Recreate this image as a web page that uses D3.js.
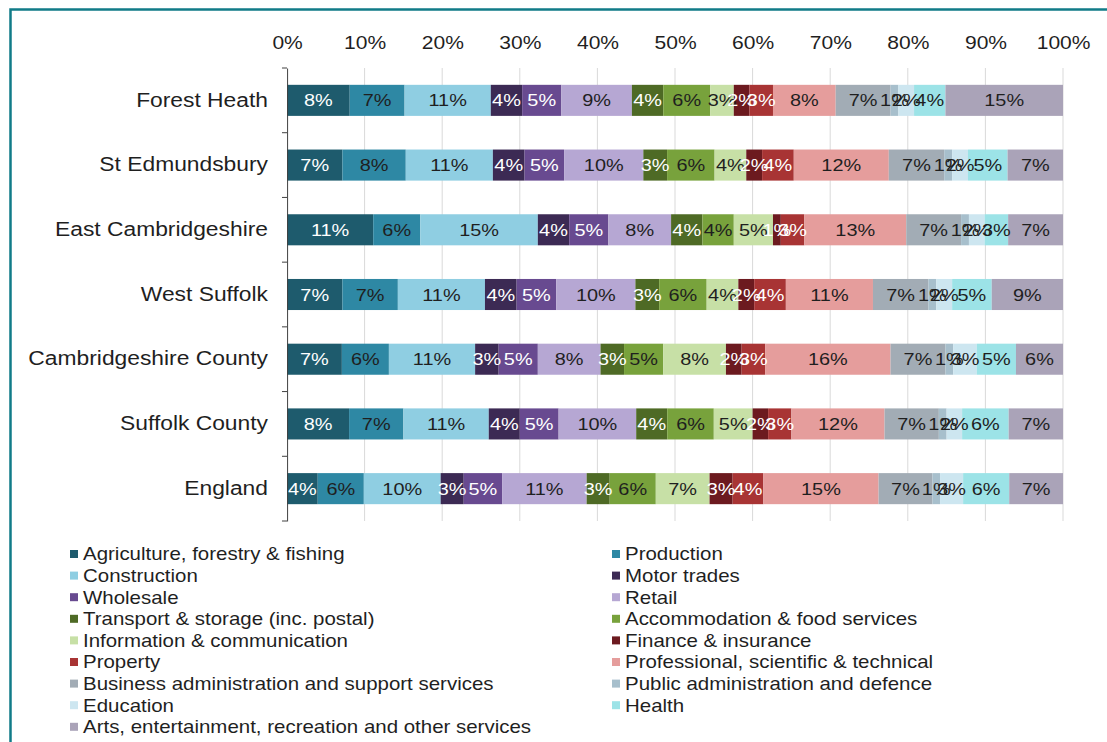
<!DOCTYPE html>
<html>
<head>
<meta charset="utf-8">
<script src="https://cdn.jsdelivr.net/npm/d3@7"></script>
<style>
  html, body { margin: 0; padding: 0; background: #ffffff; overflow: hidden; }
  svg { display: block; }
</style>
</head>
<body>
<svg id="chart" width="1107" height="742"></svg>
<script>
// Areas, top to bottom
const categories = [
  "Forest Heath", "St Edmundsbury", "East Cambridgeshire", "West Suffolk",
  "Cambridgeshire County", "Suffolk County", "England"
];

// Industry sectors, in stacking / legend order
const sectors = [
  "Agriculture, forestry & fishing", "Production",
  "Construction", "Motor trades",
  "Wholesale", "Retail",
  "Transport & storage (inc. postal)", "Accommodation & food services",
  "Information & communication", "Finance & insurance",
  "Property", "Professional, scientific & technical",
  "Business administration and support services", "Public administration and defence",
  "Education", "Health",
  "Arts, entertainment, recreation and other services"
];

// Share of businesses by sector (%), one array per area, same order as sectors
const forestHeath        = [8, 7, 11, 4, 5, 9, 4, 6, 3, 2, 3, 8, 7, 1, 2, 4, 15];
const stEdmundsbury      = [7, 8, 11, 4, 5, 10, 3, 6, 4, 2, 4, 12, 7, 1, 2, 5, 7];
const eastCambridgeshire = [11, 6, 15, 4, 5, 8, 4, 4, 5, 1, 3, 13, 7, 1, 2, 3, 7];
const westSuffolk        = [7, 7, 11, 4, 5, 10, 3, 6, 4, 2, 4, 11, 7, 1, 2, 5, 9];
const cambridgeshire     = [7, 6, 11, 3, 5, 8, 3, 5, 8, 2, 3, 16, 7, 1, 3, 5, 6];
const suffolk            = [8, 7, 11, 4, 5, 10, 4, 6, 5, 2, 3, 12, 7, 1, 2, 6, 7];
const england            = [4, 6, 10, 3, 5, 11, 3, 6, 7, 3, 4, 15, 7, 1, 3, 6, 7];

const tickLabels = ["0%", "10%", "20%", "30%", "40%", "50%", "60%", "70%", "80%", "90%", "100%"];

// Segment fills and label colours per sector
const palette = [
  "#1e5b6d", "#2e88a4", "#8fcee2", "#3c2a54", "#684a90", "#b6a7d3",
  "#4e6a25", "#78a23c", "#c7e0a6", "#6c1a1f", "#a83434", "#e59d9c",
  "#a2acb5", "#a7bfcc", "#cde6f0", "#9ce3e7", "#aaa3b8"
];
const labelInk = [
  "#ffffff", "#1f1f1f", "#1f1f1f", "#ffffff", "#ffffff", "#1f1f1f",
  "#ffffff", "#1f1f1f", "#1f1f1f", "#ffffff", "#ffffff", "#1f1f1f",
  "#1f1f1f", "#1f1f1f", "#1f1f1f", "#1f1f1f", "#1f1f1f"
];

const rowValues = [forestHeath, stEdmundsbury, eastCambridgeshire, westSuffolk,
                   cambridgeshire, suffolk, england];

const table = categories.map((c, i) => {
  const row = { category: c };
  sectors.forEach((s, j) => { row[s] = rowValues[i][j]; });
  return row;
});

// The drawing is laid out on a horizontally widened grid (wide type and bars)
const W = 1107, H = 742, SX = 1.17;
const X = px => px / SX;
const FONT = "'Liberation Sans', Arial, Helvetica, sans-serif";
const INK = "#1f1f1f";

const svg = d3.select("#chart")
  .attr("viewBox", `0 0 ${W / SX} ${H}`)
  .attr("preserveAspectRatio", "none");

svg.append("rect").attr("width", W / SX).attr("height", H).attr("fill", "#ffffff");

// Frame
svg.append("path")
  .attr("d", `M${X(10.5)},${H} V9.5 H${W / SX}`)
  .attr("fill", "none")
  .attr("stroke", "#117b88")
  .attr("stroke-width", 2.5)
  .attr("vector-effect", "non-scaling-stroke");

const plotTop = 68, plotBottom = 521;
const x = d3.scaleLinear().domain([0, 1]).range([X(287), X(1063)]);
const y = d3.scaleBand()
  .domain(categories)
  .range([plotTop, plotBottom])
  .paddingInner(0.52)
  .paddingOuter(0.26);

const tickValues = tickLabels.map(t => parseFloat(t) / 100);

// Vertical gridlines
svg.append("g").selectAll("line")
  .data(tickValues.slice(1))
  .join("line")
  .attr("x1", d => x(d)).attr("x2", d => x(d))
  .attr("y1", plotTop).attr("y2", plotBottom)
  .attr("stroke", "#d9d9d9")
  .attr("stroke-width", 1)
  .attr("vector-effect", "non-scaling-stroke");

// Percentage axis along the top
const xAxis = svg.append("g")
  .attr("transform", "translate(0,49)")
  .call(d3.axisTop(x).tickValues(tickValues).tickFormat((d, i) => tickLabels[i])
    .tickSize(0).tickPadding(0));
xAxis.select(".domain").remove();
xAxis.selectAll("text")
  .attr("font-family", FONT).attr("font-size", 18).attr("fill", INK);

// Stacked 100% bars
const stack = d3.stack().keys(sectors).offset(d3.stackOffsetExpand);
const layers = stack(table);

const layerG = svg.append("g").selectAll("g")
  .data(layers)
  .join("g")
  .attr("fill", (d, i) => palette[i]);

layerG.selectAll("rect")
  .data(d => d)
  .join("rect")
  .attr("x", d => x(d[0]))
  .attr("width", d => x(d[1]) - x(d[0]))
  .attr("y", d => y(d.data.category))
  .attr("height", y.bandwidth());

// Value labels, centred in each segment
const labelG = svg.append("g").selectAll("g")
  .data(layers)
  .join("g")
  .attr("fill", (d, i) => labelInk[i]);

labelG.selectAll("text")
  .data(d => d.map(seg => ({ seg, key: d.key })))
  .join("text")
  .attr("x", d => x((d.seg[0] + d.seg[1]) / 2))
  .attr("y", d => y(d.seg.data.category) + y.bandwidth() / 2)
  .attr("dy", "0.36em")
  .attr("text-anchor", "middle")
  .attr("font-family", FONT)
  .attr("font-size", 17)
  .text(d => `${d.seg.data[d.key]}%`);

// Category axis on the left
const yAxis = svg.append("g")
  .attr("transform", `translate(${X(287)},0)`)
  .call(d3.axisLeft(y).tickSize(0).tickPadding(X(19)));
yAxis.select(".domain")
  .attr("stroke", "#404040")
  .attr("vector-effect", "non-scaling-stroke");
yAxis.selectAll("text")
  .attr("font-family", FONT).attr("font-size", 19.5).attr("fill", INK);

// Tick marks between categories
svg.append("g").selectAll("line")
  .data(d3.range(categories.length + 1))
  .join("line")
  .attr("x1", X(282)).attr("x2", X(287))
  .attr("y1", i => plotTop + i * y.step())
  .attr("y2", i => plotTop + i * y.step())
  .attr("stroke", "#404040")
  .attr("stroke-width", 1)
  .attr("vector-effect", "non-scaling-stroke");

// Legend in two columns
const legendCols = [{ box: 70, text: 83 }, { box: 612, text: 625 }];
const legendTop = 554, legendStep = 21.6;
const legend = svg.append("g").selectAll("g")
  .data(sectors)
  .join("g")
  .attr("transform", (d, i) =>
    `translate(0,${legendTop + Math.floor(i / 2) * legendStep})`);

legend.append("rect")
  .attr("x", (d, i) => X(legendCols[i % 2].box))
  .attr("y", -4)
  .attr("width", X(8))
  .attr("height", 8)
  .attr("fill", (d, i) => palette[i]);

legend.append("text")
  .attr("x", (d, i) => X(legendCols[i % 2].text))
  .attr("dy", "0.36em")
  .attr("font-family", FONT)
  .attr("font-size", 17.5)
  .attr("fill", INK)
  .text(d => d);
</script>
</body>
</html>
